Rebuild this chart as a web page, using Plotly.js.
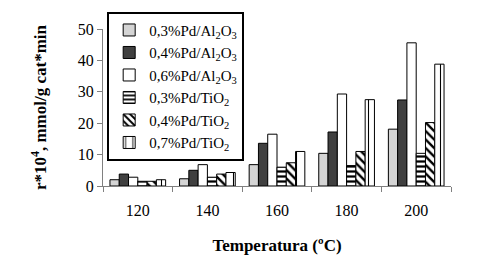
<!DOCTYPE html>
<html><head><meta charset="utf-8">
<script src="https://cdn.plot.ly/plotly-3.0.1.min.js"></script>
<style>html,body{margin:0;padding:0;background:#fff}#c{width:487px;height:257px}</style>
</head><body><div id="c"></div>
<script>
const categories = ['120','140','160','180','200'];
const seriesNames = ['0,3%Pd/Al<sub>2</sub>O<sub>3</sub>','0,4%Pd/Al<sub>2</sub>O<sub>3</sub>','0,6%Pd/Al<sub>2</sub>O<sub>3</sub>','0,3%Pd/TiO<sub>2</sub>','0,4%Pd/TiO<sub>2</sub>','0,7%Pd/TiO<sub>2</sub>'];
const pd03Al = [2.0, 2.3, 6.8, 10.4, 18.1];
const pd04Al = [3.8, 5.0, 13.6, 17.2, 27.4];
const pd06Al = [2.8, 6.8, 16.5, 29.3, 45.6];
const pd03Ti = [1.5, 2.8, 6.0, 6.5, 10.4];
const pd04Ti = [1.5, 3.8, 7.4, 11.0, 20.2];
const pd07Ti = [2.0, 4.3, 11.0, 27.5, 38.8];
const yTicks = [0,10,20,30,40,50];

const values = [pd03Al, pd04Al, pd06Al, pd03Ti, pd04Ti, pd07Ti];
const fills = ['#d4d4d4','#404040','#ffffff','#ffffff','#ffffff','#ffffff'];
const patterns = [
  {shape:''},{shape:''},{shape:''},
  {shape:'-', bgcolor:'#ffffff', fgcolor:'#000000', size:5, solidity:0.45},
  {shape:'\\', bgcolor:'#ffffff', fgcolor:'#000000', size:6, solidity:0.4},
  {shape:'|', bgcolor:'#ffffff', fgcolor:'#000000', size:9, solidity:0.12}
];
const traces = values.map((v,i)=>({
  type:'bar', x:categories, y:v, name:seriesNames[i],
  marker:{color:fills[i], line:{color:'#000', width:1}, pattern:patterns[i]}
}));
const font = {family:'"Liberation Serif", "Times New Roman", serif', size:16, color:'#000'};
const bold = Object.assign({}, font, {size:17, weight:'bold'});
Plotly.newPlot('c', traces, {
  width:487, height:257,
  margin:{l:103, r:36, t:20, b:71},
  paper_bgcolor:'#fff', plot_bgcolor:'#fff',
  font:font,
  barmode:'group', bargap:0.2, bargroupgap:0,
  xaxis:{type:'category', showline:true, linecolor:'#808080', linewidth:1,
    ticks:'outside', tickson:'boundaries', ticklen:5, tickcolor:'#808080', ticklabelstandoff:10,
    showgrid:false, zeroline:false, tickfont:font,
    title:{text:'Temperatura (ºC)', font:bold, standoff:20}},
  yaxis:{range:[0,50], tickvals:yTicks, ticktext:yTicks.map(String), showline:true, linecolor:'#808080', linewidth:1,
    ticks:'outside', ticklen:5, tickcolor:'#808080', showgrid:false, zeroline:false, tickfont:font,
    title:{text:'r*10<sup>4</sup>, mmol/g cat*min', font:bold, standoff:26}},
  legend:{x:0.012, y:1.11, xanchor:'left', yanchor:'top', bordercolor:'#000', borderwidth:2,
    bgcolor:'#fff', font:Object.assign({}, font, {size:15}), itemwidth:30, tracegroupgap:0, maxheight:1},
  showlegend:true
}, {staticPlot:true, displayModeBar:false});
</script></body></html>
